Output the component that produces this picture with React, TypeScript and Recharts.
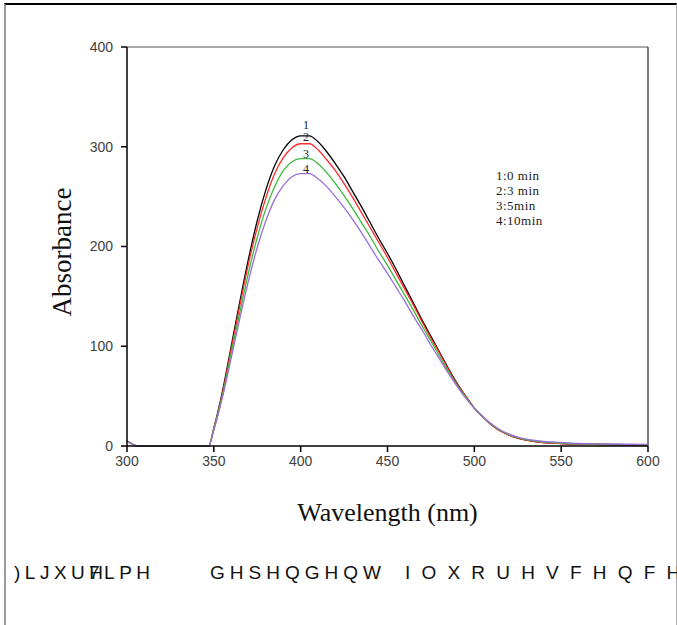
import React from 'react';
import { LineChart, Line, XAxis, YAxis, ReferenceLine, ReferenceDot, Legend, Label } from 'recharts';

const wavelengths = [300, 303, 306, 347, 350, 355, 360, 365, 370, 375, 380, 385, 390, 395, 400, 405, 410, 415, 420, 425, 430, 435, 440, 445, 450, 455, 460, 465, 470, 475, 480, 485, 490, 495, 500, 505, 510, 515, 520, 525, 530, 535, 540, 550, 560, 575, 600];

const abs0min = [5, 2, 0, 0, 18, 55, 100, 145, 188, 226, 257, 281, 297, 307, 311, 311, 305, 295, 283, 270, 255, 240, 224, 208, 193, 177, 160, 143, 126, 110, 94, 78, 63, 50, 38, 29, 21, 15, 11, 8, 6, 4.5, 3.5, 2.5, 2, 1.5, 1];
const abs3min = [5, 2, 0, 0, 17, 53, 97, 141, 183, 219, 249, 273, 289, 299, 303, 303, 297, 287, 276, 263, 249, 234, 219, 204, 189, 173, 157, 141, 124, 108, 93, 77, 62, 50, 38, 29, 21, 15, 11, 8, 6, 4.5, 3.5, 2.5, 2, 1.5, 1];
const abs5min = [5, 2, 0, 0, 17, 51, 93, 134, 174, 209, 238, 260, 276, 285, 288, 288, 283, 274, 263, 251, 238, 224, 210, 195, 181, 166, 151, 136, 120, 105, 90, 75, 61, 49, 38, 29, 21.5, 15.5, 11.5, 8.5, 6.5, 5, 4, 3, 2.2, 1.7, 1.2];
const abs10min = [5, 2, 0, 0, 16, 49, 88, 128, 166, 199, 226, 247, 261, 270, 273, 273, 268, 260, 250, 239, 227, 214, 200, 186, 173, 159, 145, 130, 116, 101, 87, 73, 60, 48, 38, 29, 22, 16, 12, 9, 7, 5.5, 4.5, 3.5, 2.5, 2, 1.5];

const xTicks = [300, 350, 400, 450, 500, 550, 600];
const yTicks = [0, 100, 200, 300, 400];
const seriesKeys = ['s0', 's3', 's5', 's10'];
const seriesNames = ['1:0 min', '2:3 min', '3:5min', '4:10min'];
const curveNumbers = ['1', '2', '3', '4'];
const seriesColors = ['#000000', '#ff2a2a', '#3cba3c', '#9a6fd8'];
const seriesValues = [abs0min, abs3min, abs5min, abs10min];
const peakWavelength = 403;

const captionWords = [')LJXUH', '7LPH', 'GHSHQGHQW', 'IOXRUHVFHQFH'];

const data = wavelengths.map((wl, i) => ({
  wl,
  s0: abs0min[i],
  s3: abs3min[i],
  s5: abs5min[i],
  s10: abs10min[i],
}));

const labelOffsets = [7, 3, 1, 1];
const captionLayout = [
  { left: 14, spacing: 4.5 },
  { left: 89, spacing: 4.5 },
  { left: 210, spacing: 5 },
  { left: 405, spacing: 11.2 },
];

const serif = 'Liberation Serif, Times New Roman, serif';
const sans = 'Liberation Sans, Arial, sans-serif';
const tickStyle = { fontFamily: sans, fontSize: 14, fill: '#404040' };

const LegendBox = () => (
  <div style={{ fontFamily: serif, fontSize: 13, color: '#222', lineHeight: '15px', letterSpacing: 0.5 }}>
    {seriesNames.map((n) => (
      <div key={n}>{n}</div>
    ))}
  </div>
);

export default function App() {
  return (
    <div style={{ position: 'fixed', left: 0, top: 0, width: 677, height: 625, background: '#fff', overflow: 'hidden' }}>
      <div style={{ position: 'absolute', left: 4, top: 3, width: 670, height: 640, borderTop: '2px solid #000', borderLeft: '2px solid #9a9a9a', borderRight: '1px solid #b0b0b0' }} />
      <div style={{ position: 'absolute', left: 0, top: 0 }}>
        <LineChart width={677} height={625} data={data} margin={{ top: 47, right: 29, left: 0, bottom: 149 }}>
          <XAxis
            dataKey="wl"
            type="number"
            domain={[300, 600]}
            ticks={xTicks}
            height={30}
            tick={tickStyle}
            tickSize={6}
            tickMargin={4}
            axisLine={{ stroke: '#000', strokeWidth: 1.5 }}
            tickLine={{ stroke: '#000', strokeWidth: 1.5 }}
          >
            <Label
              content={(props: any) => {
                const vb = props.viewBox;
                const cx = vb.x + vb.width / 2;
                return (
                  <text x={cx} y={521} textAnchor="middle" fontFamily={serif} fontSize={26} fill="#111">
                    Wavelength (nm)
                  </text>
                );
              }}
            />
          </XAxis>
          <YAxis
            type="number"
            domain={[0, 400]}
            ticks={yTicks}
            width={127}
            tick={tickStyle}
            tickSize={6}
            tickMargin={8}
            axisLine={{ stroke: '#000', strokeWidth: 1.5 }}
            tickLine={{ stroke: '#000', strokeWidth: 1.5 }}
          >
            <Label
              content={() => {
                const cx = 62;
                const cy = 252;
                return (
                  <text x={cx} y={cy} transform={`rotate(-90 ${cx} ${cy})`} textAnchor="middle" dominantBaseline="central" fontFamily={serif} fontSize={27} fill="#111">
                    Absorbance
                  </text>
                );
              }}
            />
          </YAxis>
          <ReferenceLine y={400} stroke="#8a8a8a" strokeWidth={1.5} />
          <ReferenceLine x={600} stroke="#222" strokeWidth={1.2} />
          {seriesKeys.map((k, i) => (
            <Line key={k} dataKey={k} name={seriesNames[i]} type="monotone" stroke={seriesColors[i]} strokeWidth={1.3} dot={false} isAnimationActive={false} />
          ))}
          {curveNumbers.map((num, i) => (
            <ReferenceDot
              key={num}
              x={peakWavelength}
              y={Math.max(...seriesValues[i])}
              r={0}
              fill="none"
              stroke="none"
              label={(props: any) => {
                const vb = props.viewBox || {};
                const x = vb.x + (vb.width || 0) / 2;
                const y = vb.y - labelOffsets[i];
                return (
                  <text x={x} y={y} textAnchor="middle" fontFamily={serif} fontSize={12} fill="#222">
                    {num}
                  </text>
                );
              }}
            />
          ))}
          <Legend
            layout="horizontal"
            verticalAlign="middle"
            align="center"
            content={() => <LegendBox />}
            wrapperStyle={{ position: 'absolute', left: 496, top: 168, width: 90, height: 62 }}
          />
        </LineChart>
      </div>
      {captionWords.map((w, i) => (
        <div
          key={w}
          style={{ position: 'absolute', left: captionLayout[i].left, top: 562, whiteSpace: 'pre', fontFamily: sans, fontSize: 19, letterSpacing: captionLayout[i].spacing, color: '#111' }}
        >
          {w}
        </div>
      ))}
    </div>
  );
}
